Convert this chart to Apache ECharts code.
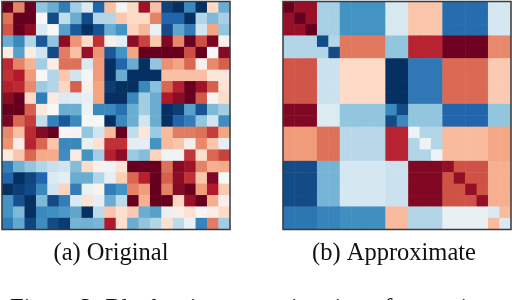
<!DOCTYPE html>
<html><head><meta charset="utf-8">
<style>html,body{margin:0;padding:0;background:#fff}#c{width:512px;height:300px}</style>
<script src="https://cdn.jsdelivr.net/npm/echarts@6/dist/echarts.min.js"></script>
</head><body><div id="c"></div>
<script>
const captionA = "(a) Original";
const captionB = "(b) Approximate";
const captionFig = "Figure 3: Block-wise approximation of a matrix";
const colorStops = ['#053061','#2166ac','#4393c3','#92c5de','#d1e5f0','#f7f7f7','#fddbc7','#f4a582','#d6604d','#b2182b','#67001f'];
const originalRows = [
[10,5,10,-4,-5,-7,-3.5,-1.5,-8,3,0.3,2,8.5,3,-9.3,-10,-6.5,-10,2,-5],
[5.5,10,10,0,-9,-2.5,-5,-9,-3,-3,2.7,2,2,5,-8,-8,-10,-3,-4.5,-3.3],
[6.3,10,9,-1.5,0,-5.5,-8.5,-10,-8.7,-5,-6,2.3,3.3,-0.7,-9,-5.3,-7,-2,4,-4],
[-5,-6.5,-3,-8.5,-4,9,4.5,2,7.3,0.6,-1,9,6.8,2.7,9.3,4.8,10,6.5,9.5,0.5],
[0.8,-5.5,0.8,-2,-9,5.2,3,8.7,4.5,-8.5,-6,4,10,10,10,10,6.5,10,0,9.2],
[7.5,5,3.5,-3.5,0.7,5.5,5.5,-1.5,4.3,-10,-8,-5,-10,-4,4.6,4,5.8,0.5,4.8,6],
[7.3,8,4.3,0,-3,2.7,-2,-0.2,4.3,-10,-5,-10,-10,-10,3,3,3,3,1.2,1.2],
[7.8,7.5,4.8,-3.7,-3,2.2,6,0.5,4,-9.5,-10,-10,-6.5,-4.2,5.8,7.8,10,8.5,6,1.5],
[9,10,2,-7,1,-1.5,-1.2,-0.8,4,-10,-10,-6.5,-3.5,-5,8,9,10,6.2,0.4,2],
[10,10,6,1,0,-5,-5,-0.6,-6.5,-6.5,-7.5,-5,-3.5,-5,-10,-9.5,-5.5,-8.7,-4.5,-3.5],
[9.5,5.8,7,-2.5,-6.8,-8.5,-6.5,-0.2,0,-10,-6.5,-5,-2,-5,-10,-8,-7,-4,-2,-6.3],
[4.8,3,7.5,9.2,10,0.2,0.3,-4,-2,3.2,10,-2.5,1.2,-3.7,3.2,5.2,5.2,5.5,7,4],
[4.5,0.7,7.7,5.8,2.8,-6.5,-6.5,-0.8,1.5,7.3,7.3,-1,-1,-6,3.2,2.8,0.8,4.8,2.8,-1],
[1,2.8,5.8,3.8,3.8,-6.3,1,-6,-3.5,7.8,9,-3.7,-4.3,2.3,-0.5,-0.5,7.2,1.8,5.8,6.8],
[-7,-4.8,-4,-3,-2.3,-2,-4.3,2,0.4,-0.5,1.4,10,10,10,5.5,9.2,8.5,5,3.6,3.8],
[-8,-10,-9.2,-8,-1.5,-1,-5,-5,-3,-1,2.5,5.8,7.8,10,6,9,7.3,2.8,9.3,0],
[-10,-9.5,-9,-6.5,-2,2.3,-7,-0.8,0.4,-7,-6,5,4.2,10,5,9.2,10,4.2,8,2.6],
[-6,-8.8,-10,-4.5,-9,-7,-1.5,1.5,-1,-5,-2.7,10,3.6,10,10,2.2,8.7,10,3.6,0.5],
[-6,-4.5,-10,-6.5,-6.2,-5.8,-5.3,-10,-2.7,2.8,1.7,2.6,-5,-5.5,-0.8,0.7,1.5,0.2,0.7,2],
[-7,-5.2,-9.2,-6.3,-9,-9.6,-4.7,-4.8,-4.6,8,1.7,-5,-4,-3,1.6,-2.7,-0.7,-6.7,5.2,-3.5]
];
const approxRows = [
[10,8.7,8.7,-3.3,-3.3,-6,-6,-6,-6,-1.7,-1.7,2.8,2.8,2.8,-7.7,-7.7,-7.7,-7.7,-1.8,-1.8],
[8.7,10,8.7,-3.3,-3.3,-6,-6,-6,-6,-1.7,-1.7,2.8,2.8,2.8,-7.7,-7.7,-7.7,-7.7,-1.8,-1.8],
[8.7,8.7,10,-3.3,-3.3,-6,-6,-6,-6,-1.7,-1.7,2.8,2.8,2.8,-7.7,-7.7,-7.7,-7.7,-1.8,-1.8],
[-3,-3,-3,-9,-3,5.3,5.3,5.3,5.3,-4,-4,7.7,7.7,7.7,9.8,9.8,9.8,9.8,4.8,4.8],
[-3,-3,-3,-3,-9,5.3,5.3,5.3,5.3,-4,-4,7.7,7.7,7.7,9.8,9.8,9.8,9.8,4.8,4.8],
[6.3,6.3,6.3,-2.2,-2.2,2,2,2,2,-10,-10,-7.2,-7.2,-7.2,5.7,5.7,5.7,5.7,2.6,2.6],
[6.3,6.3,6.3,-2.2,-2.2,2,2,2,2,-10,-10,-7.2,-7.2,-7.2,5.7,5.7,5.7,5.7,2.6,2.6],
[6.3,6.3,6.3,-2.2,-2.2,2,2,2,2,-10,-10,-7.2,-7.2,-7.2,5.7,5.7,5.7,5.7,2.6,2.6],
[6.3,6.3,6.3,-2.2,-2.2,2,2,2,2,-10,-10,-7.2,-7.2,-7.2,5.7,5.7,5.7,5.7,2.6,2.6],
[9.3,9.3,9.3,-1.4,-1.4,-4,-4,-4,-4,-6.5,-9,-4,-4,-4,-8,-8,-8,-8,-4,-4],
[9.3,9.3,9.3,-1.4,-1.4,-4,-4,-4,-4,-9,-6.5,-4,-4,-4,-8,-8,-8,-8,-4,-4],
[4.3,4.3,4.3,5.5,5.5,-2.8,-2.8,-2.8,-2.8,7.7,7.7,-0.6,-3,-3,3.2,3.2,3.2,3.2,3.9,3.9],
[4.3,4.3,4.3,5.5,5.5,-2.8,-2.8,-2.8,-2.8,7.7,7.7,-3,-0.6,-3,3.2,3.2,3.2,3.2,3.9,3.9],
[4.3,4.3,4.3,5.5,5.5,-2.8,-2.8,-2.8,-2.8,7.7,7.7,-3,-3,-0.6,3.2,3.2,3.2,3.2,3.9,3.9],
[-9,-9,-9,-4.7,-4.7,-1.8,-1.8,-1.8,-1.8,-2.2,-2.2,9.3,9.3,9.3,8.8,6.4,6.4,6.4,3.6,3.6],
[-9,-9,-9,-4.7,-4.7,-1.8,-1.8,-1.8,-1.8,-2.2,-2.2,9.3,9.3,9.3,6.4,8.8,6.4,6.4,3.6,3.6],
[-9,-9,-9,-4.7,-4.7,-1.8,-1.8,-1.8,-1.8,-2.2,-2.2,9.3,9.3,9.3,6.4,6.4,8.8,6.4,3.6,3.6],
[-9,-9,-9,-4.7,-4.7,-1.8,-1.8,-1.8,-1.8,-2.2,-2.2,9.3,9.3,9.3,6.4,6.4,6.4,8.8,3.6,3.6],
[-7.3,-7.3,-7.3,-6.7,-6.7,-6.2,-6.2,-6.2,-6.2,3.2,3.2,-3,-3,-3,-0.8,-0.8,-0.8,-0.8,-1.5,3.2],
[-7.3,-7.3,-7.3,-6.7,-6.7,-6.2,-6.2,-6.2,-6.2,3.2,3.2,-3,-3,-3,-0.8,-0.8,-0.8,-0.8,3.2,-1.5]
];
const indexLabels = Array.from({length:20},(_, i)=>String(i));
const toCells = rows => rows.flatMap((r,y)=>r.map((v,x)=>[x,y,v]));
const axisOff = {type:'category',data:indexLabels,axisLine:{show:false},axisTick:{show:false},axisLabel:{show:false},splitLine:{show:false},splitArea:{show:false}};
const frame = {show:true,borderColor:'#3a3a3a',borderWidth:1.5,backgroundColor:'transparent',z:10};
const captionStyle = {fontFamily:'Liberation Serif',fontSize:24.5,fontWeight:'normal',color:'#111'};
const chart = echarts.init(document.getElementById('c'),null,{renderer:'canvas'});
chart.setOption({
  animation:false,
  backgroundColor:'#fff',
  grid:[
    Object.assign({left:2,top:1.5,width:228,height:228},frame),
    Object.assign({left:283,top:1.5,width:228,height:228},frame)
  ],
  xAxis:[Object.assign({gridIndex:0},axisOff),Object.assign({gridIndex:1},axisOff)],
  yAxis:[Object.assign({gridIndex:0,inverse:true},axisOff),Object.assign({gridIndex:1,inverse:true},axisOff)],
  visualMap:{show:false,min:-10,max:10,seriesIndex:[0,1],inRange:{color:colorStops}},
  series:[
    {type:'heatmap',xAxisIndex:0,yAxisIndex:0,data:toCells(originalRows),silent:true,progressive:0},
    {type:'heatmap',xAxisIndex:1,yAxisIndex:1,data:toCells(approxRows),silent:true,progressive:0}
  ],
  title:[
    {text:captionA,left:111,top:241,textAlign:'center',padding:0,textStyle:captionStyle},
    {text:captionB,left:394,top:241,textAlign:'center',padding:0,textStyle:captionStyle},
    {text:captionFig,left:10,top:297,padding:0,textStyle:captionStyle}
  ]
});
</script></body></html>
